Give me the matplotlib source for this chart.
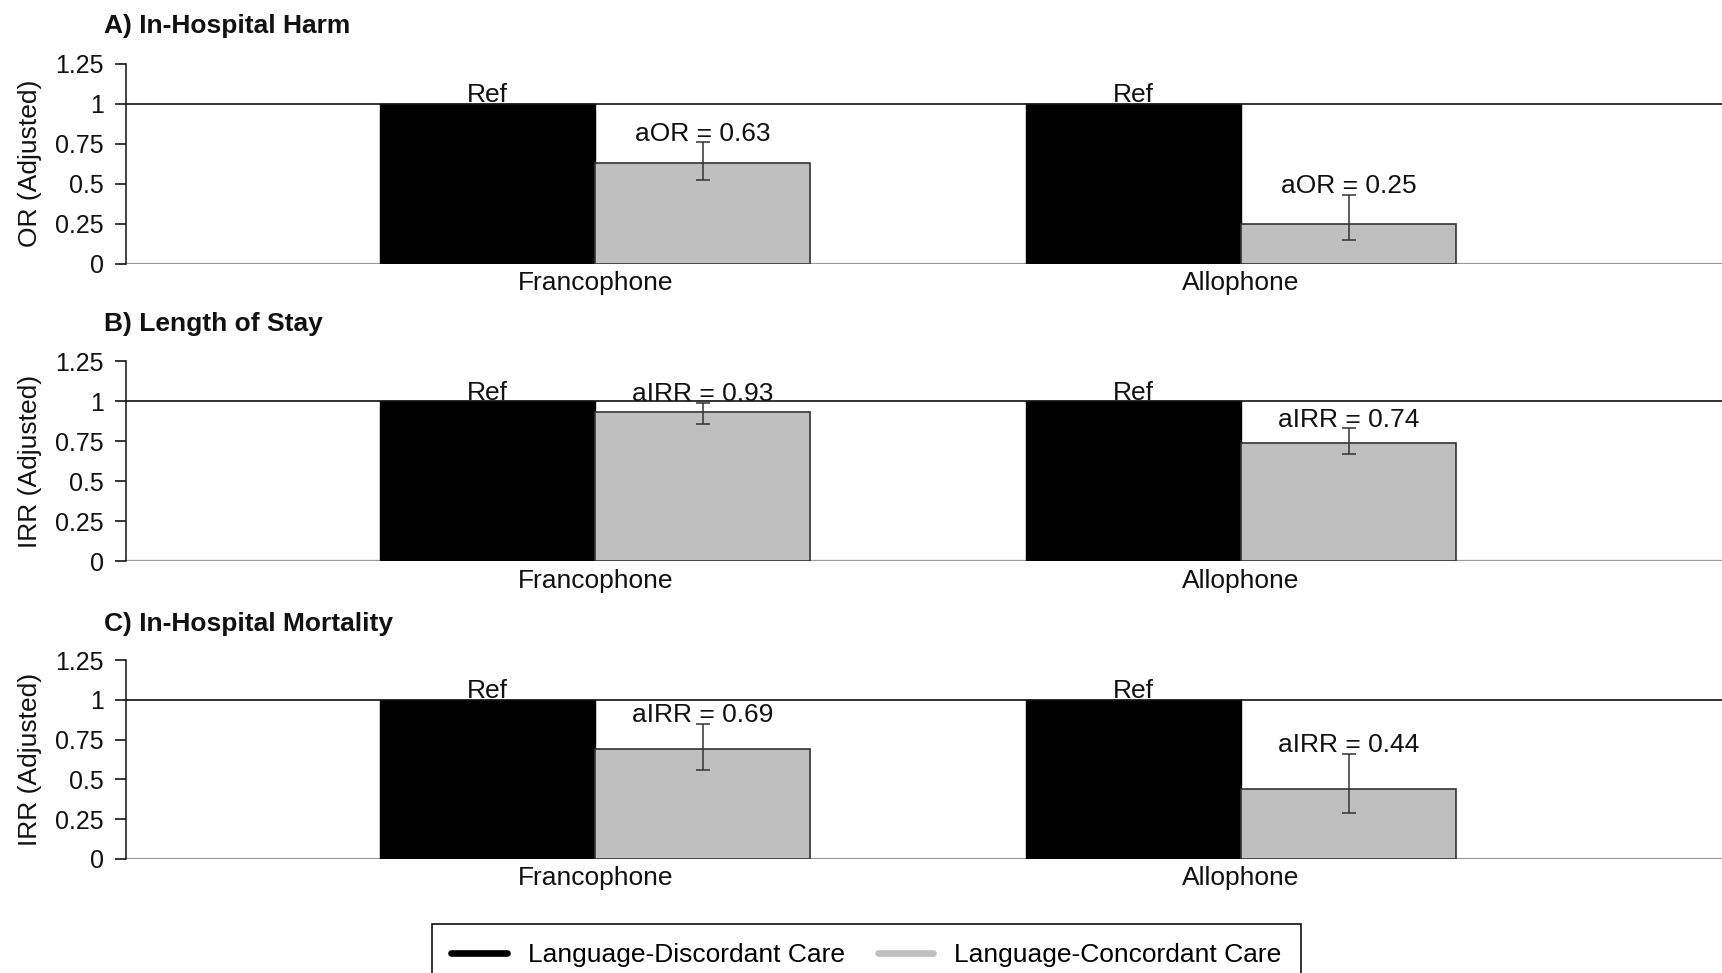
import matplotlib
matplotlib.use("Agg")
import matplotlib.pyplot as plt
from matplotlib.lines import Line2D

plt.rcParams['font.family'] = ['Liberation Sans', 'DejaVu Sans']

# ---- data ----
categories = ["Francophone", "Allophone"]
panel_titles = ["A) In-Hospital Harm", "B) Length of Stay", "C) In-Hospital Mortality"]
y_labels = ["OR (Adjusted)", "IRR (Adjusted)", "IRR (Adjusted)"]
label_prefix = ["aOR", "aIRR", "aIRR"]
series_names = ["Language-Discordant Care", "Language-Concordant Care"]

discordant = [[1.0, 1.0], [1.0, 1.0], [1.0, 1.0]]
harm_concordant = [0.63, 0.25]
harm_lo = [0.52, 0.15]
harm_hi = [0.76, 0.43]
los_concordant = [0.93, 0.74]
los_lo = [0.86, 0.67]
los_hi = [0.99, 0.83]
mort_concordant = [0.69, 0.44]
mort_lo = [0.56, 0.29]
mort_hi = [0.85, 0.66]

concordant = [harm_concordant, los_concordant, mort_concordant]
ci_lo = [harm_lo, los_lo, mort_lo]
ci_hi = [harm_hi, los_hi, mort_hi]
yticks = [0, 0.25, 0.5, 0.75, 1, 1.25]
ytick_labels = ["0", "0.25", "0.5", "0.75", "1", "1.25"]

# ---- figure ----
W, H = 1722, 973
fig = plt.figure(figsize=(W / 100, H / 100), dpi=100)

BLACK = "#000000"
GRAY = "#bfbfbf"
EDGE = "#333333"

axes_px = [(63.7, 263.6), (361.3, 561.2), (660.0, 858.8)]  # (top, bottom) in px
title_y = [25.5, 324.5, 623.5]
left_px = 126
bw = 1 / 3

for k in range(3):
    top, bot = axes_px[k]
    ax = fig.add_axes([left_px / W, 1 - bot / H, 1 - left_px / W, (bot - top) / H])
    x = list(range(len(categories)))
    xb = [i - bw / 2 for i in x]
    xg = [i + bw / 2 for i in x]
    ax.bar(xb, discordant[k], width=bw, color=BLACK, edgecolor=BLACK, linewidth=1.0, zorder=2)
    ax.bar(xg, concordant[k], width=bw, color=GRAY, edgecolor=EDGE, linewidth=1.2, zorder=2)
    err_low = [c - l for c, l in zip(concordant[k], ci_lo[k])]
    err_up = [h - c for c, h in zip(concordant[k], ci_hi[k])]
    ax.errorbar(xg, concordant[k], yerr=[err_low, err_up], fmt='none', ecolor=EDGE,
                elinewidth=1.1, capsize=5, capthick=1.1, zorder=3)
    ax.axhline(1, color="#111111", lw=1.2, zorder=4)
    ax.axhline(0, color="#9a9a9a", lw=1.6, zorder=1)

    for i in range(len(categories)):
        ax.annotate("Ref", (xb[i], discordant[k][i]), xytext=(0, 1), textcoords='offset points',
                    ha='center', va='baseline', fontsize=19, color='#111111', zorder=5)
        ax.annotate(f"{label_prefix[k]} = {concordant[k][i]:.2f}", (xg[i], ci_hi[k][i]),
                    xytext=(0, 1), textcoords='offset points',
                    ha='center', va='baseline', fontsize=19, color='#111111', zorder=5)

    ax.set_xlim(-0.7266, 1.745)
    ax.set_ylim(0, 1.25)
    ax.set_yticks(yticks)
    ax.set_yticklabels(ytick_labels)
    ax.set_xticks(x)
    ax.set_xticklabels(categories)
    ax.tick_params(axis='x', length=0, pad=5.5, labelsize=19, labelcolor='#111111')
    ax.tick_params(axis='y', length=8, width=1.1, pad=8, labelsize=18, labelcolor='#111111', direction='out')
    for s in ['top', 'right', 'bottom']:
        ax.spines[s].set_visible(False)
    ax.spines['left'].set_linewidth(1.1)
    ax.spines['left'].set_color('#111111')

    fig.text(104 / W, 1 - title_y[k] / H, panel_titles[k], fontsize=19, fontweight='bold',
             ha='left', va='center', color='#111111')
    fig.text(30.5 / W, 1 - (top + bot) / 2 / H, y_labels[k], fontsize=19, rotation=90,
             ha='center', va='center', color='#111111')

handles = [Line2D([0], [0], color=BLACK, lw=4.8, solid_capstyle='round'),
           Line2D([0], [0], color=GRAY, lw=4.8, solid_capstyle='round')]
leg = fig.legend(handles, series_names, ncol=2, loc='upper left',
                 bbox_to_anchor=(431.6 / W, 1 - 923.6 / H), borderaxespad=0,
                 frameon=True, fancybox=False, edgecolor='#111111', framealpha=1,
                 fontsize=19, handlelength=2.1, handletextpad=0.8, columnspacing=1.25,
                 borderpad=0.75)
leg.get_frame().set_linewidth(1.2)

fig.savefig("out.png", dpi=100)
